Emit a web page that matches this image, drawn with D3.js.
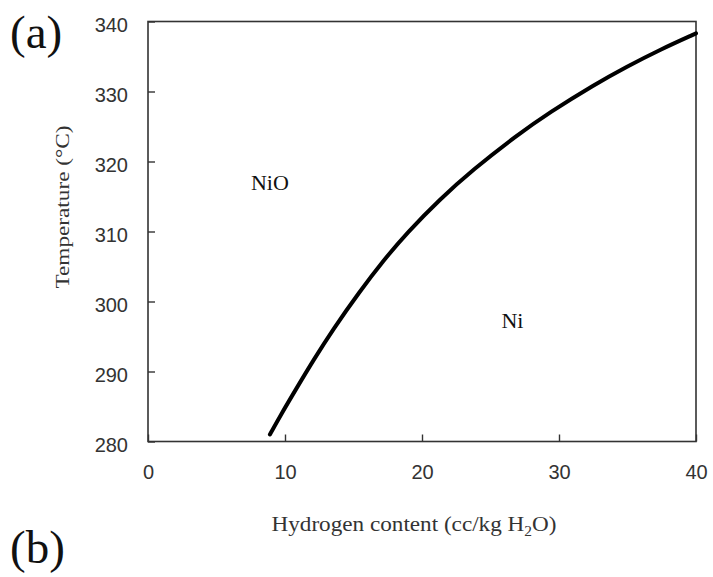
<!DOCTYPE html>
<html>
<head>
<meta charset="utf-8">
<script src="https://cdn.jsdelivr.net/npm/d3@7"></script>
<style>
  html, body { margin: 0; padding: 0; background: #fff; }
  svg { display: block; }
</style>
</head>
<body>
<svg id="chart" width="713" height="577"></svg>
<script>
// Ni / NiO phase boundary: hydrogen content (cc/kg H2O) vs temperature (°C)
const hydrogen    = [8.9, 9.6, 10.9, 12.1, 13.5, 15.4, 17.2, 18.9, 21.3, 23.7, 26.9, 29.3, 32.6, 34.9, 37.4, 40.0];
const temperature = [281.0, 283.5, 287.8, 291.7, 296.0, 301.3, 305.9, 309.8, 314.6, 318.8, 323.7, 327.0, 331.0, 333.5, 336.0, 338.3];

const xTicks = [0, 10, 20, 30, 40];
const yTicks = [280, 290, 300, 310, 320, 330, 340];

const regionLabels = ["NiO", "Ni"];
const regionX = [8.9, 26.6];
const regionT = [315.9, 296.2];

const svg = d3.select("#chart");
const plot = { left: 148, right: 696, top: 21.5, bottom: 441.5 };

const x = d3.scaleLinear().domain([0, 40]).range([plot.left, plot.right]);
const y = d3.scaleLinear().domain([280, 340]).range([plot.bottom, plot.top]);

const axisColor = "#333";
const serif = "'Liberation Serif', 'Times New Roman', serif";
const sans = "'Liberation Sans', Arial, sans-serif";

// frame
svg.append("rect")
  .attr("x", plot.left).attr("y", plot.top)
  .attr("width", plot.right - plot.left).attr("height", plot.bottom - plot.top)
  .attr("fill", "none").attr("stroke", axisColor).attr("stroke-width", 1.6);

// bottom axis: ticks point inward
const xAxis = svg.append("g")
  .attr("transform", `translate(0,${plot.bottom})`)
  .call(d3.axisBottom(x).tickValues(xTicks).tickSize(-7).tickPadding(23).tickFormat(d3.format("d")));
xAxis.select(".domain").remove();
xAxis.selectAll("line").attr("stroke", axisColor).attr("stroke-width", 1.4);
xAxis.selectAll("text")
  .attr("font-family", sans)
  .attr("font-size", 20).attr("fill", "#333");

// left axis: ticks point inward
const yAxis = svg.append("g")
  .attr("transform", `translate(${plot.left},0)`)
  .call(d3.axisLeft(y).tickValues(yTicks).tickSize(-7).tickPadding(20).tickFormat(d3.format("d")));
yAxis.select(".domain").remove();
yAxis.selectAll("line").attr("stroke", axisColor).attr("stroke-width", 1.4);
yAxis.selectAll("text")
  .attr("font-family", sans)
  .attr("font-size", 20).attr("fill", "#333")
  .attr("dy", "0.5em");

// boundary curve
const pts = hydrogen.map((h, i) => [h, temperature[i]]);
svg.append("path")
  .datum(pts)
  .attr("d", d3.line().x(d => x(d[0])).y(d => y(d[1])).curve(d3.curveBasis))
  .attr("fill", "none").attr("stroke", "#000").attr("stroke-width", 4)
  .attr("stroke-linecap", "round");

// region labels
svg.selectAll("text.region")
  .data(regionLabels)
  .join("text")
  .attr("class", "region")
  .attr("x", (d, i) => x(regionX[i]))
  .attr("y", (d, i) => y(regionT[i]))
  .attr("text-anchor", "middle")
  .attr("font-family", serif)
  .attr("font-size", 22).attr("fill", "#111")
  .text(d => d);

// axis titles
svg.append("text")
  .attr("transform", `translate(69,207) rotate(-90)`)
  .attr("text-anchor", "middle")
  .attr("font-family", serif)
  .attr("font-size", 19).attr("fill", "#333")
  .attr("textLength", 163).attr("lengthAdjust", "spacingAndGlyphs")
  .text("Temperature (°C)");

const xt = svg.append("text")
  .attr("x", 414).attr("y", 531)
  .attr("text-anchor", "middle")
  .attr("font-family", serif)
  .attr("font-size", 21).attr("fill", "#333")
  .attr("textLength", 285).attr("lengthAdjust", "spacingAndGlyphs");
xt.append("tspan").text("Hydrogen content (cc/kg H");
xt.append("tspan").attr("font-size", 14).attr("dy", 5).text("2");
xt.append("tspan").attr("dy", -5).text("O)");

// panel letters
svg.append("text")
  .attr("x", 10).attr("y", 48)
  .attr("font-family", serif)
  .attr("font-size", 47).attr("fill", "#111")
  .text("(a)");
svg.append("text")
  .attr("x", 10).attr("y", 563)
  .attr("font-family", serif)
  .attr("font-size", 47).attr("fill", "#111")
  .text("(b)");
</script>
</body>
</html>
